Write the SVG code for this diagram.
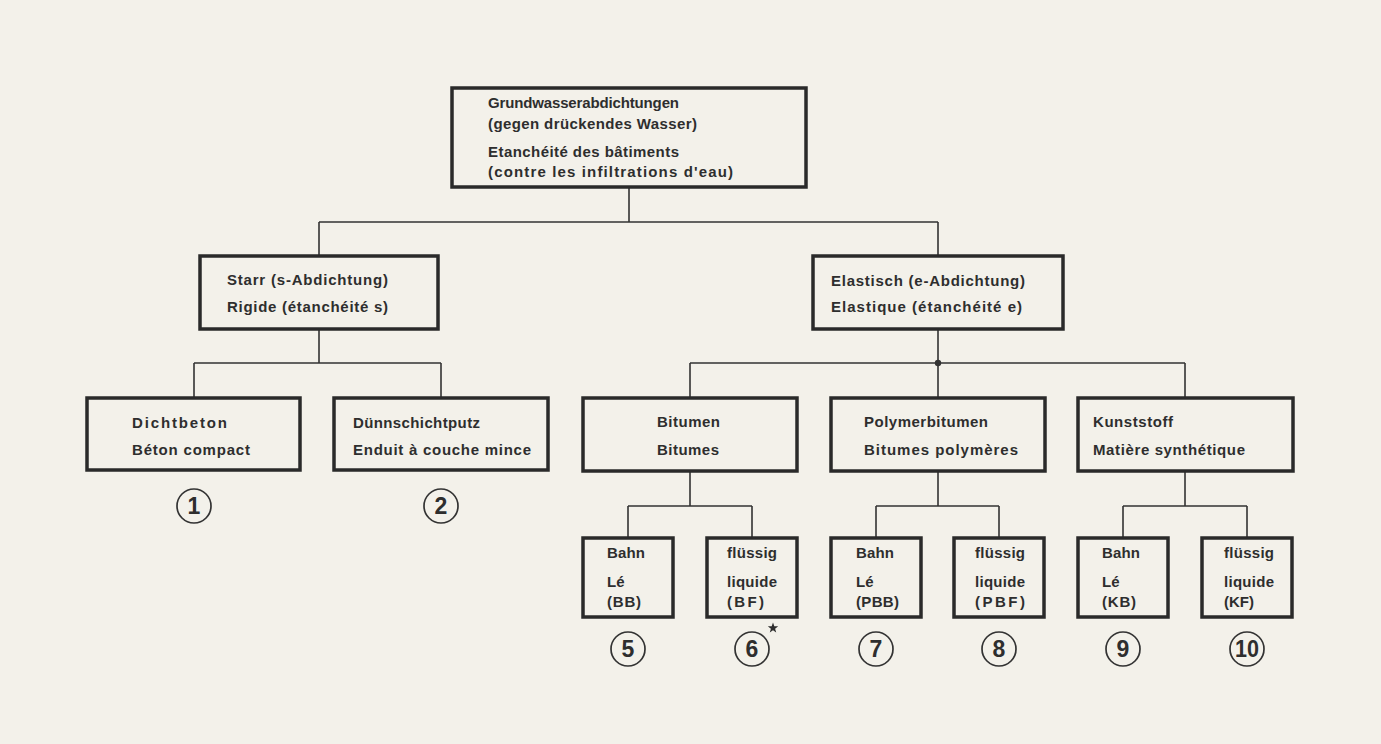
<svg xmlns="http://www.w3.org/2000/svg" width="1381" height="744" viewBox="0 0 1381 744">
<style>
.box{fill:none;stroke:#2a2a2a;stroke-width:3.5}
.con{fill:none;stroke:#333;stroke-width:1.6}
.t{font-family:"Liberation Sans",Arial,sans-serif;font-weight:bold;font-size:15px;fill:#2e2e2e}
.num{font-family:"Liberation Sans",Arial,sans-serif;font-weight:bold;font-size:23px;fill:#2e2e2e;text-anchor:middle}
.circ{fill:none;stroke:#333;stroke-width:1.7}
</style>
<rect x="0" y="0" width="1381" height="744" fill="#f3f1ea"/>
<g id="connectors">
<path class="con" d="M629 187V222M319 222H938M319 222V256M938 222V256"/>
<path class="con" d="M319 329V363M194 363H441M194 363V398M441 363V398"/>
<path class="con" d="M938 329V363M690 363H1185M690 363V398M938 363V398M1185 363V398"/>
<circle cx="938" cy="363" r="3.2" fill="#333"/>
<path class="con" d="M690 471V506M628 506H752M628 506V538M752 506V538"/>
<path class="con" d="M938 471V506M876 506H999M876 506V538M999 506V538"/>
<path class="con" d="M1185 471V506M1123 506H1247M1123 506V538M1247 506V538"/>
</g>
<g id="n-root">
<rect class="box" x="452" y="88" width="354" height="99"/>
<text class="t" x="488" y="108" textLength="191" lengthAdjust="spacing">Grundwasserabdichtungen</text>
<text class="t" x="488" y="129" textLength="209" lengthAdjust="spacing">(gegen drückendes Wasser)</text>
<text class="t" x="488" y="157" textLength="191" lengthAdjust="spacing">Etanchéité des bâtiments</text>
<text class="t" x="488" y="177" textLength="245" lengthAdjust="spacing">(contre les infiltrations d'eau)</text>
</g>
<g id="n-starr">
<rect class="box" x="200" y="256" width="238" height="73"/>
<text class="t" x="227" y="285" textLength="161" lengthAdjust="spacing">Starr (s-Abdichtung)</text>
<text class="t" x="227" y="312" textLength="161" lengthAdjust="spacing">Rigide (étanchéité s)</text>
</g>
<g id="n-elastisch">
<rect class="box" x="813" y="256" width="250" height="73"/>
<text class="t" x="831" y="286" textLength="194" lengthAdjust="spacing">Elastisch (e-Abdichtung)</text>
<text class="t" x="831" y="312" textLength="191" lengthAdjust="spacing">Elastique (étanchéité e)</text>
</g>
<g id="n-dichtbeton">
<rect class="box" x="87" y="398" width="213" height="72"/>
<text class="t" x="132" y="428" textLength="95" lengthAdjust="spacing">Dichtbeton</text>
<text class="t" x="132" y="455" textLength="118" lengthAdjust="spacing">Béton compact</text>
<circle class="circ" cx="194" cy="506" r="17"/>
<text class="num" x="194" y="514">1</text>
</g>
<g id="n-duennschicht">
<rect class="box" x="334" y="398" width="214" height="72"/>
<text class="t" x="353" y="428" textLength="127" lengthAdjust="spacing">Dünnschichtputz</text>
<text class="t" x="353" y="455" textLength="178" lengthAdjust="spacing">Enduit à couche mince</text>
<circle class="circ" cx="441" cy="506" r="17"/>
<text class="num" x="441" y="514">2</text>
</g>
<g id="n-bitumen">
<rect class="box" x="583" y="398" width="214" height="73"/>
<text class="t" x="657" y="427" textLength="63" lengthAdjust="spacing">Bitumen</text>
<text class="t" x="657" y="455" textLength="62" lengthAdjust="spacing">Bitumes</text>
</g>
<g id="n-polymerbitumen">
<rect class="box" x="831" y="398" width="214" height="73"/>
<text class="t" x="864" y="427" textLength="124" lengthAdjust="spacing">Polymerbitumen</text>
<text class="t" x="864" y="455" textLength="154" lengthAdjust="spacing">Bitumes polymères</text>
</g>
<g id="n-kunststoff">
<rect class="box" x="1078" y="398" width="215" height="73"/>
<text class="t" x="1093" y="427" textLength="80" lengthAdjust="spacing">Kunststoff</text>
<text class="t" x="1093" y="455" textLength="152" lengthAdjust="spacing">Matière synthétique</text>
</g>
<g id="n-bb">
<rect class="box" x="583" y="538" width="90" height="79"/>
<text class="t" x="607" y="558" textLength="38" lengthAdjust="spacing">Bahn</text>
<text class="t" x="607" y="587">Lé</text>
<text class="t" x="607" y="607" textLength="34" lengthAdjust="spacing">(BB)</text>
<circle class="circ" cx="628" cy="649" r="17"/>
<text class="num" x="628" y="657">5</text>
</g>
<g id="n-bf">
<rect class="box" x="707" y="538" width="90" height="79"/>
<text class="t" x="727" y="558" textLength="50" lengthAdjust="spacing">flüssig</text>
<text class="t" x="727" y="587" textLength="50" lengthAdjust="spacing">liquide</text>
<text class="t" x="727" y="607" textLength="37" lengthAdjust="spacing">(BF)</text>
<circle class="circ" cx="752" cy="649" r="17"/>
<text class="num" x="752" y="657">6</text>
<polygon fill="#2e2e2e" points="773,622.5 774.3,626.2 778.2,626.3 775.1,628.7 776.2,632.5 773,630.2 769.8,632.5 770.9,628.7 767.8,626.3 771.7,626.2"/>
</g>
<g id="n-pbb">
<rect class="box" x="831" y="538" width="90" height="79"/>
<text class="t" x="856" y="558" textLength="38" lengthAdjust="spacing">Bahn</text>
<text class="t" x="856" y="587">Lé</text>
<text class="t" x="856" y="607" textLength="43" lengthAdjust="spacing">(PBB)</text>
<circle class="circ" cx="876" cy="649" r="17"/>
<text class="num" x="876" y="657">7</text>
</g>
<g id="n-pbf">
<rect class="box" x="954" y="538" width="90" height="79"/>
<text class="t" x="975" y="558" textLength="50" lengthAdjust="spacing">flüssig</text>
<text class="t" x="975" y="587" textLength="50" lengthAdjust="spacing">liquide</text>
<text class="t" x="975" y="607" textLength="50" lengthAdjust="spacing">(PBF)</text>
<circle class="circ" cx="999" cy="649" r="17"/>
<text class="num" x="999" y="657">8</text>
</g>
<g id="n-kb">
<rect class="box" x="1078" y="538" width="90" height="79"/>
<text class="t" x="1102" y="558" textLength="38" lengthAdjust="spacing">Bahn</text>
<text class="t" x="1102" y="587">Lé</text>
<text class="t" x="1102" y="607" textLength="34" lengthAdjust="spacing">(KB)</text>
<circle class="circ" cx="1123" cy="649" r="17"/>
<text class="num" x="1123" y="657">9</text>
</g>
<g id="n-kf">
<rect class="box" x="1202" y="538" width="90" height="79"/>
<text class="t" x="1224" y="558" textLength="50" lengthAdjust="spacing">flüssig</text>
<text class="t" x="1224" y="587" textLength="50" lengthAdjust="spacing">liquide</text>
<text class="t" x="1224" y="607" textLength="30" lengthAdjust="spacing">(KF)</text>
<circle class="circ" cx="1247" cy="649" r="17"/>
<text class="num" x="1247" y="657" textLength="24" lengthAdjust="spacingAndGlyphs">10</text>
</g>
</svg>
